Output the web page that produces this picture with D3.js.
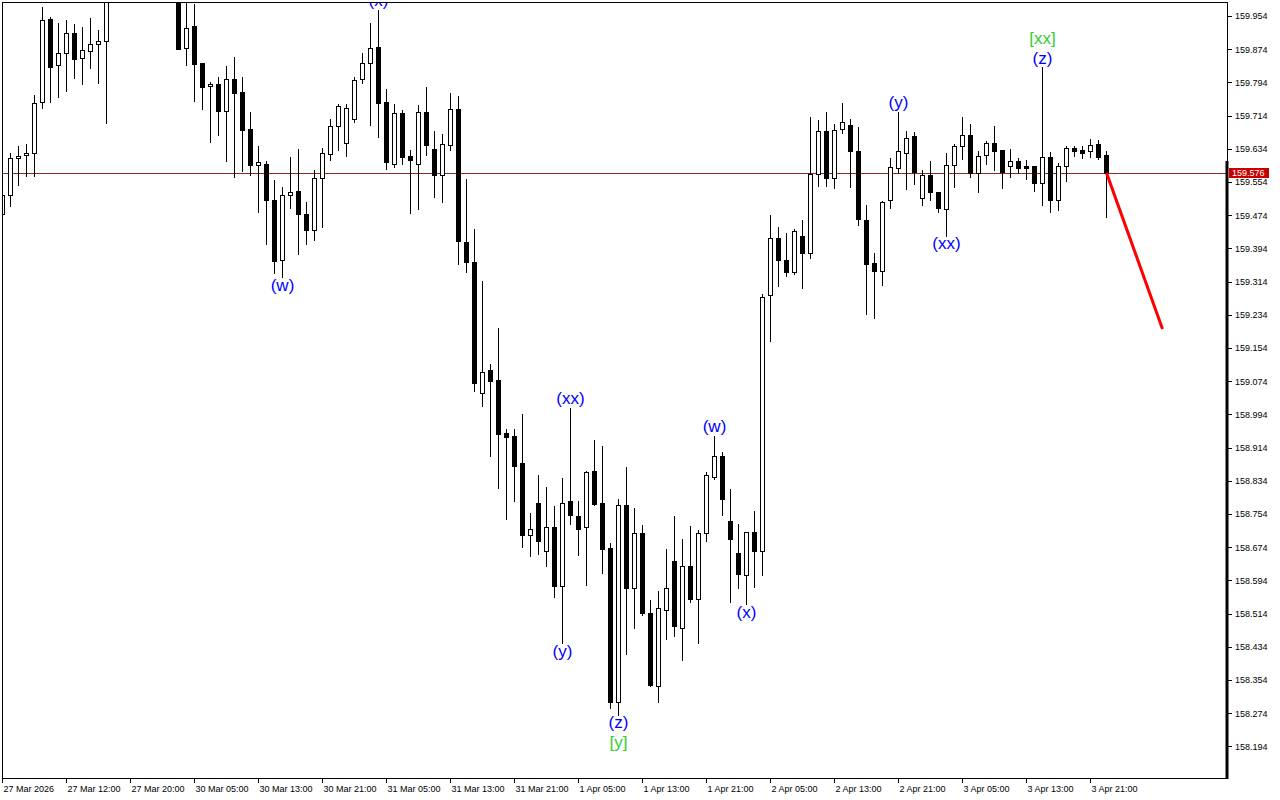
<!DOCTYPE html>
<html><head><meta charset="utf-8">
<script src="https://cdn.jsdelivr.net/npm/d3@7"></script>
<style>html,body{margin:0;padding:0;background:#fff;} svg{display:block;}</style>
</head><body>
<svg id="chart" width="1280" height="800"></svg>
<script>
// ---------------- DATA ----------------
const xTickLabels = ["27 Mar 2026","27 Mar 12:00","27 Mar 20:00","30 Mar 05:00","30 Mar 13:00","30 Mar 21:00",
  "31 Mar 05:00","31 Mar 13:00","31 Mar 21:00","1 Apr 05:00","1 Apr 13:00","1 Apr 21:00",
  "2 Apr 05:00","2 Apr 13:00","2 Apr 21:00","3 Apr 05:00","3 Apr 13:00","3 Apr 21:00"];
const priceTicks = [159.954,159.874,159.794,159.714,159.634,159.554,159.474,159.394,159.314,159.234,159.154,
  159.074,158.994,158.914,158.834,158.754,158.674,158.594,158.514,158.434,158.354,158.274,158.194];

const open = [159.477,159.523,159.611,159.618,159.623,159.747,159.947,159.835,159.864,159.913,
  159.852,159.869,159.886,159.893,160.02,160.06,160.10,160.07,160.04,160.08,
  160.03,160.05,160.01,159.878,159.930,159.841,159.785,159.790,159.726,159.802,
  159.771,159.682,159.596,159.597,159.511,159.365,159.522,159.532,159.477,159.439,
  159.563,159.621,159.688,159.647,159.705,159.803,159.840,159.879,159.747,159.598,
  159.720,159.617,159.598,159.723,159.634,159.572,159.644,159.731,159.409,159.361,
  159.045,159.100,159.076,158.949,158.943,158.878,158.703,158.781,158.664,158.723,
  158.581,158.785,158.749,158.722,158.858,158.781,158.672,158.302,158.776,158.576,
  158.708,158.516,158.340,158.523,158.641,158.480,158.629,158.549,158.708,158.842,
  158.893,158.736,158.660,158.606,158.710,158.664,159.281,159.418,159.365,159.338,
  159.423,159.382,159.573,159.676,159.563,159.681,159.691,159.628,159.462,159.358,
  159.339,159.510,159.587,159.623,159.664,159.515,159.570,159.529,159.488,159.594,
  159.640,159.667,159.575,159.618,159.648,159.630,159.592,159.604,159.592,159.593,
  159.552,159.614,159.511,159.593,159.636,159.631,159.628,159.646,159.619];
const high = [159.525,159.624,159.641,159.646,159.764,159.976,159.952,159.937,159.944,159.935,
  159.928,159.949,159.920,160.04,160.08,160.12,160.14,160.11,160.09,160.10,
  160.07,160.08,160.03,159.998,159.983,159.841,159.795,159.807,159.834,159.855,
  159.807,159.723,159.641,159.605,159.559,159.542,159.614,159.634,159.506,159.583,
  159.636,159.706,159.742,159.742,159.806,159.866,159.937,159.969,159.778,159.742,
  159.728,159.630,159.740,159.783,159.677,159.670,159.769,159.761,159.561,159.441,
  159.316,159.116,159.201,158.958,158.960,158.996,158.757,158.849,158.818,158.773,
  158.841,159.010,158.785,158.858,158.932,158.918,158.683,158.790,158.867,158.769,
  158.728,158.547,158.569,158.670,158.748,158.694,158.726,158.716,158.855,158.942,
  158.903,158.814,158.730,158.710,158.761,159.283,159.475,159.445,159.430,159.440,
  159.463,159.711,159.703,159.723,159.694,159.744,159.706,159.687,159.498,159.383,
  159.508,159.611,159.723,159.677,159.674,159.583,159.605,159.530,159.624,159.645,
  159.711,159.694,159.628,159.653,159.689,159.630,159.633,159.611,159.606,159.593,
  159.830,159.627,159.599,159.641,159.641,159.641,159.658,159.655,159.629];
const low = [159.472,159.496,159.547,159.569,159.569,159.732,159.747,159.759,159.773,159.805,
  159.790,159.829,159.793,159.697,160.00,160.03,160.05,160.02,160.01,160.02,
  160.00,160.01,159.874,159.837,159.750,159.731,159.651,159.668,159.605,159.567,
  159.581,159.572,159.482,159.405,159.334,159.324,159.492,159.381,159.405,159.415,
  159.446,159.608,159.632,159.617,159.699,159.793,159.692,159.662,159.586,159.591,
  159.598,159.480,159.489,159.620,159.519,159.506,159.631,159.356,159.337,159.050,
  159.015,158.893,158.816,158.741,158.785,158.675,158.652,158.658,158.628,158.555,
  158.442,158.729,158.656,158.584,158.776,158.613,158.286,158.270,158.417,158.480,
  158.511,158.340,158.301,158.453,158.460,158.403,158.543,158.444,158.690,158.838,
  158.751,158.543,158.575,158.537,158.579,158.608,159.172,159.303,159.328,159.332,
  159.299,159.370,159.545,159.545,159.540,159.671,159.543,159.451,159.237,159.227,
  159.305,159.491,159.575,159.536,159.550,159.499,159.510,159.481,159.425,159.543,
  159.610,159.567,159.529,159.598,159.583,159.540,159.567,159.576,159.561,159.533,
  159.499,159.482,159.487,159.557,159.617,159.613,159.615,159.610,159.470];
const close = [159.523,159.612,159.617,159.624,159.744,159.944,159.832,159.864,159.912,159.851,
  159.871,159.886,159.893,160.02,160.06,160.10,160.07,160.04,160.08,160.03,
  160.05,160.02,159.875,159.924,159.839,159.784,159.789,159.726,159.802,159.769,
  159.680,159.594,159.602,159.511,159.364,159.523,159.529,159.478,159.439,159.563,
  159.623,159.688,159.736,159.732,159.800,159.841,159.876,159.745,159.601,159.720,
  159.615,159.608,159.722,159.642,159.572,159.646,159.730,159.412,159.362,159.070,
  159.095,159.075,158.947,158.939,158.869,158.703,158.718,158.688,158.723,158.581,
  158.781,158.752,158.719,158.855,158.779,158.670,158.302,158.775,158.576,158.708,
  158.516,158.342,158.528,158.575,158.483,158.629,158.548,158.708,158.847,158.893,
  158.790,158.693,158.609,158.710,158.664,159.278,159.418,159.365,159.338,159.435,
  159.382,159.573,159.676,159.563,159.679,159.698,159.628,159.464,159.357,159.339,
  159.505,159.589,159.628,159.659,159.579,159.570,159.529,159.491,159.594,159.640,
  159.667,159.576,159.616,159.648,159.629,159.579,159.604,159.588,159.588,159.552,
  159.614,159.511,159.593,159.636,159.628,159.625,159.643,159.615,159.576];

const currentPrice = 159.576;
const forecastIndex = [138, 145];
const forecastPrice = [159.576, 159.20];

const waveIndex  = [35, 47, 70, 71, 77, 77, 89, 93, 112, 118, 130, 130];
const waveText   = ["(w)","(x)","(y)","(xx)","(z)","[y]","(w)","(x)","(y)","(xx)","(z)","[xx]"];
const waveSide   = ["below","above","below","above","below","below","above","below","above","below","above","above"];
const waveDegree = [0,0,0,0,0,1,0,0,0,0,0,1];

// ---------------- LAYOUT ----------------
const W = 1280, H = 800;
const plot = {left: 2, top: 2, right: 1227, bottom: 778};
const svg = d3.select("#chart");
svg.append("rect").attr("width", W).attr("height", H).attr("fill", "#fff");

const x = d3.scaleLinear().domain([0, 138]).range([2.5, 1106.5]);
const y = d3.scaleLinear().domain([158.11786, 159.99255]).range([778, 0]);

svg.append("defs").append("clipPath").attr("id", "clip")
  .append("rect").attr("x", plot.left + 0.5).attr("y", plot.top + 0.5)
  .attr("width", plot.right - plot.left - 0.5).attr("height", plot.bottom - plot.top - 0.5);

const g = svg.append("g").attr("clip-path", "url(#clip)");

// current price line
g.append("line")
  .attr("x1", plot.left).attr("x2", plot.right)
  .attr("y1", Math.round(y(currentPrice)) + 0.5).attr("y2", Math.round(y(currentPrice)) + 0.5)
  .attr("stroke", "#8c2a2a").attr("stroke-width", 1);

const data = d3.range(open.length).map(i => ({i, o: open[i], h: high[i], l: low[i], c: close[i]}));

const cg = g.append("g").attr("shape-rendering", "crispEdges");
cg.selectAll("line.wick").data(data).join("line")
  .attr("class", "wick")
  .attr("x1", d => x(d.i)).attr("x2", d => x(d.i))
  .attr("y1", d => Math.round(y(d.h))).attr("y2", d => Math.round(y(d.l)) + 1)
  .attr("stroke", "#000").attr("stroke-width", 1);

cg.selectAll("rect.bull").data(data.filter(d => d.c >= d.o)).join("rect")
  .attr("class", "bull")
  .attr("x", d => x(d.i) - 2)
  .attr("y", d => Math.round(y(d.c)) + 0.5)
  .attr("width", 4)
  .attr("height", d => Math.max(Math.round(y(d.o)) - Math.round(y(d.c)), 1))
  .attr("fill", "#fff").attr("stroke", "#000").attr("stroke-width", 1);

cg.selectAll("rect.bear").data(data.filter(d => d.c < d.o)).join("rect")
  .attr("class", "bear")
  .attr("x", d => x(d.i) - 2.5)
  .attr("y", d => Math.round(y(d.o)))
  .attr("width", 5)
  .attr("height", d => Math.round(y(d.c)) - Math.round(y(d.o)) + 1)
  .attr("fill", "#000");

// forecast line
g.append("path")
  .datum(forecastIndex.map((d, k) => [d, forecastPrice[k]]))
  .attr("d", d3.line().x(d => x(d[0])).y(d => y(d[1])))
  .attr("fill", "none").attr("stroke", "#ff0000").attr("stroke-width", 3);

// wave labels
const waves = waveIndex.map((idx, k) => ({idx, text: waveText[k], side: waveSide[k], deg: waveDegree[k]}));
g.selectAll("text.wave").data(waves).join("text")
  .attr("class", "wave")
  .attr("x", d => x(d.idx))
  .attr("y", d => {
    const c = d.side === "above" ? y(high[d.idx]) - 8 - 20 * d.deg : y(low[d.idx]) + 9 + 20 * d.deg;
    return c + 4.5;
  })
  .attr("text-anchor", "middle")
  .attr("font-family", "'Liberation Sans', Arial, sans-serif")
  .attr("font-size", 17)
  .attr("fill", d => d.deg === 0 ? "#0000ff" : "#32cd32")
  .text(d => d.text);

// frame
svg.append("rect")
  .attr("x", plot.left + 0.5).attr("y", plot.top + 0.5)
  .attr("width", plot.right - plot.left).attr("height", plot.bottom - plot.top)
  .attr("fill", "none").attr("stroke", "#000").attr("stroke-width", 1)
  .attr("shape-rendering", "crispEdges");
svg.append("rect")
  .attr("x", plot.right - 1.5).attr("y", 161)
  .attr("width", 3).attr("height", plot.bottom - 161 + 1)
  .attr("fill", "#000");

// price axis
const yAxis = d3.axisRight(y).tickValues(priceTicks).tickSize(4).tickPadding(3)
  .tickFormat(d3.format(".3f")).offset(0.5);
const ya = svg.append("g").attr("transform", `translate(${plot.right + 1},0)`).call(yAxis);
ya.select(".domain").remove();
ya.selectAll("line").attr("stroke", "#000").attr("shape-rendering", "crispEdges");
ya.selectAll("text").attr("font-family", "'Liberation Sans', Arial, sans-serif").attr("font-size", 9).attr("fill", "#000");

// time axis
const xAxis = d3.axisBottom(x).tickValues(xTickLabels.map((_, k) => k * 8))
  .tickSize(4).tickPadding(3).tickFormat((d, k) => xTickLabels[k]).offset(0);
const xa = svg.append("g").attr("transform", `translate(0,${plot.bottom + 1})`).call(xAxis);
xa.select(".domain").remove();
xa.selectAll("line").attr("stroke", "#000").attr("shape-rendering", "crispEdges");
xa.selectAll("text").attr("text-anchor", "start").attr("dx", 1)
  .attr("font-family", "'Liberation Sans', Arial, sans-serif").attr("font-size", 9).attr("fill", "#000");

// current price tag
const py = y(currentPrice);
svg.append("rect").attr("x", 1229).attr("y", Math.round(py) - 5).attr("width", 40).attr("height", 10)
  .attr("fill", "#c80000");
svg.append("text").attr("x", 1232).attr("y", py).attr("dy", "0.33em")
  .attr("font-family", "'Liberation Sans', Arial, sans-serif").attr("font-size", 9).attr("fill", "#fff")
  .text(d3.format(".3f")(currentPrice));
</script>
</body></html>
